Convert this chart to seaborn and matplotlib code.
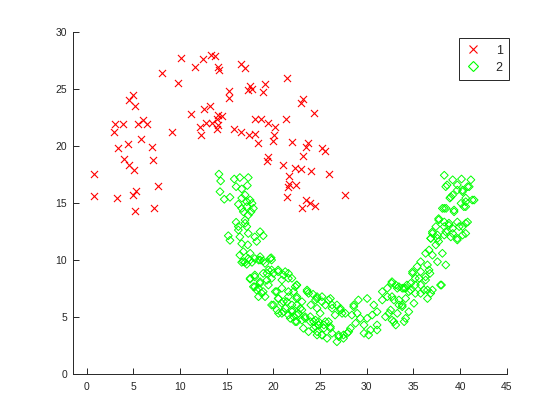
import numpy as np
import pandas as pd
import matplotlib
matplotlib.use("Agg")
import matplotlib.pyplot as plt
import seaborn as sns
from matplotlib.lines import Line2D

red_x = [10.1, 12.5, 13.3, 13.7, 11.6, 14.1, 14.2, 8.1, 9.8, 5.0, 4.5, 5.2, 11.2, 12.6, 13.2,
         14.1, 14.5, 12.8, 13.4, 14.0, 14.1, 14.0, 12.1, 12.2, 3.0, 3.9, 2.9, 5.5, 6.0, 6.5,
         9.1, 5.85, 4.4, 3.3, 7.0, 4.0, 4.5, 5.05, 7.1, 0.75, 7.6, 0.75, 3.2, 4.9, 5.3, 7.2, 5.2,
         16.5, 17.0, 21.4, 15.2, 15.2, 17.5, 17.3, 17.7, 19.1, 18.9, 23.2, 22.95, 24.3, 18.0,
         18.7, 19.4, 20.2, 21.3, 15.8, 16.5, 17.4, 18.0, 18.3, 20.1, 19.9, 22.0, 23.7, 23.5,
         25.2, 25.5, 23.2, 19.4, 19.3, 21.0, 22.3, 23.0, 24.0, 25.9, 21.7, 21.7, 22.4, 21.55,
         21.45, 23.5, 23.9, 24.5, 23.1, 27.7]
red_y = [27.7, 27.6, 27.9, 27.85, 26.9, 26.9, 26.6, 26.4, 25.5, 24.4, 24.0, 23.5, 22.8, 23.2, 23.5,
         22.7, 22.6, 22.0, 21.95, 22.3, 21.8, 21.45, 21.6, 20.9, 21.9, 21.9, 21.2, 21.9, 22.2, 21.9,
         21.2, 20.55, 20.1, 19.8, 19.9, 18.8, 18.3, 17.9, 18.7, 17.5, 16.5, 15.6, 15.4, 15.7, 16.0, 14.5, 14.3,
         27.15, 26.8, 25.9, 24.8, 24.2, 25.25, 24.9, 25.0, 25.4, 24.7, 24.1, 23.7, 22.9, 22.3,
         22.3, 21.95, 21.6, 22.3, 21.45, 21.15, 20.9, 21.0, 20.2, 20.9, 20.4, 20.3, 20.2, 19.85,
         19.8, 19.5, 19.1, 19.0, 18.65, 18.3, 18.05, 17.95, 17.8, 17.55, 17.3, 16.6, 16.55, 16.4,
         15.5, 15.2, 15.0, 14.7, 14.55, 15.65]

green_x = [
    14.16, 14.34, 14.27, 14.73, 15.34, 15.8, 16.4, 17.3, 17.2, 16.0, 16.6, 16.96, 17.5, 16.6, 16.24,
    17.14, 17.85, 16.77, 17.3, 16.0, 16.96, 17.14, 16.24, 15.16, 15.34, 16.4, 17.3, 16.6, 17.25, 18.0,
    18.57, 18.9, 18.2, 16.77, 17.5, 18.57, 19.75, 16.4, 17.7, 17.14, 16.6, 17.6, 16.96, 16.24,
    16.96, 17.5, 18.0, 18.57, 19.1, 19.8, 16.6, 17.5, 18.0, 18.57, 17.85, 18.9, 19.46, 20.0, 20.5,
    21.07, 21.6, 21.98, 19.3, 19.8, 18.2, 18.75, 19.1, 18.4, 20.36, 20.9, 21.6, 22.5, 20.5, 20.0,
    20.9, 21.44, 20.54, 21.07, 21.98, 22.5, 23.05, 23.6, 24.24, 24.5, 24.0, 24.67, 22.15, 22.7, 23.05,
    22.5, 23.4, 23.95, 23.2, 23.76, 24.3, 24.67, 24.5, 24.84, 21.6,
    24.67, 25.2, 26.1, 25.56, 26.28, 26.8, 27.17, 27.35, 26.6, 25.0, 24.84, 25.4, 25.9, 26.1, 25.2,
    27.0, 26.8, 27.5, 28.06, 28.6, 29.1, 30.04, 28.97, 29.3, 28.8, 29.7, 30.04, 30.58, 30.75, 31.1,
    31.1, 30.4, 29.7, 30.2, 31.66, 32.2, 32.2, 32.66, 33.44, 33.98, 31.66, 32.9, 33.44, 32.0, 32.37,
    33.1, 33.8, 34.0, 32.7, 28.4, 24.5, 31.1,
    38.3, 38.6, 39.2, 39.7, 40.15, 41.15, 40.8, 40.26, 39.2, 38.9, 41.3, 40.6, 40.4, 39.35, 38.1,
    38.5, 37.7, 37.4, 38.3, 38.8, 39.2, 39.9, 40.6, 40.6, 39.7, 39.0, 38.3, 37.03, 36.85, 37.57,
    37.4, 36.67, 36.3, 37.03, 38.1, 37.57, 38.46, 35.77, 36.5, 35.4, 34.9, 35.77, 36.67, 35.2, 36.3,
    34.7, 34.16, 35.77, 36.13, 37.03, 37.9, 32.7, 33.27, 34.5, 35.2,
    34.9, 35.6, 36.3, 36.77, 33.1, 33.8, 34.3, 34.7, 35.2, 35.77, 36.5, 36.85, 38.0, 36.5, 32.7,
    33.44, 34.16, 35.05, 33.8, 34.5, 33.27, 34.16, 32.9, 32.55,
    16.77, 17.3, 17.7, 17.14, 18.4, 18.9, 19.65,
    17.5, 18.0, 18.57, 19.3, 19.8, 20.5, 21.26, 21.6, 22.5, 20.9, 19.46, 18.4, 18.9, 18.0,
    20.2, 20.54, 19.8, 20.36, 21.07, 21.6, 22.15, 21.26, 21.98, 22.5, 22.87, 20.9,
    22.33, 23.6, 23.76, 24.67, 25.2, 25.9, 26.28, 27.17, 27.7, 28.6, 22.5,
    21.98, 22.5, 23.05, 23.4, 23.95, 24.3, 24.84, 25.4, 25.56, 26.1, 26.28, 24.67, 25.2, 25.74,
    26.98, 27.5, 27.9, 28.25, 22.33, 21.8,
    38.46, 39.0, 39.7, 40.26, 40.97, 40.6, 41.5, 40.1, 40.6, 38.3, 39.35, 37.7, 38.3, 38.8, 39.7,
    40.26, 40.8, 37.03, 37.57, 38.46, 39.2, 39.7, 40.26, 36.85, 37.7]
green_y = [
    17.5, 16.9, 15.96, 15.3, 15.47, 17.07, 17.2, 17.2, 16.5, 16.4, 16.2, 15.67, 15.23, 15.4, 14.86,
    14.65, 14.5, 14.2, 13.9, 13.28, 13.48, 12.9, 12.6, 12.1, 11.7, 12.0, 12.3, 11.4, 11.3, 12.0,
    12.45, 12.1, 11.6, 10.7, 10.56, 10.26, 10.17, 10.4, 14.94, 15.08, 14.5, 14.2, 13.2, 12.9,
    9.77, 9.97, 10.1, 9.97, 9.68, 9.97, 9.77, 8.3, 8.66, 7.93, 7.63, 8.8, 9.1, 8.8, 8.95,
    8.66, 8.8, 8.37, 8.2, 8.37, 7.34, 7.05, 6.76, 6.76, 7.2, 7.5, 7.2, 7.78, 6.6, 6.03,
    6.18, 6.32, 5.3, 5.44, 5.59, 6.03, 6.32, 7.2, 6.97, 6.47, 6.03, 5.74, 5.0, 5.3, 4.7,
    4.57, 5.0, 4.57, 3.99, 3.69, 3.99, 3.4, 4.7, 4.28, 5.15,
    6.6, 6.76, 6.6, 6.03, 5.74, 6.03, 5.74, 5.3, 5.15, 5.3, 4.57, 4.28, 4.57, 3.99, 3.4,
    3.25, 2.81, 3.4, 3.69, 5.88, 6.47, 6.6, 5.3, 4.86, 4.43, 4.28, 4.86, 5.15, 6.03, 5.44,
    4.28, 3.84, 3.55, 3.4, 7.2, 6.76, 7.5, 7.93, 7.63, 7.5, 6.47, 6.47, 6.03, 5.0, 5.3,
    4.28, 6.03, 4.57, 4.7, 5.15, 4.13, 3.84,
    17.4, 16.55, 17.0, 16.55, 17.07, 17.0, 16.4, 16.1, 15.67, 15.4, 15.23, 15.08, 14.65, 14.2, 14.5,
    14.5, 13.48, 12.9, 12.9, 13.2, 12.75, 12.9, 13.2, 12.3, 11.73, 12.0, 12.16, 12.3, 11.87, 11.87,
    11.3, 10.85, 10.56, 10.4, 10.56, 9.82, 9.54, 9.82, 9.54, 9.4, 8.95, 8.95, 9.1, 8.37, 8.22,
    7.93, 7.5, 7.78, 7.34, 7.34, 7.78, 8.07, 7.5, 7.2, 7.05,
    8.8, 8.37, 8.5, 8.8, 7.78, 7.5, 7.78, 7.34, 7.78, 7.05, 7.34, 7.05, 7.78, 6.6, 6.76,
    6.47, 6.6, 6.18, 5.88, 5.44, 5.3, 4.86, 4.57, 5.59,
    9.83, 10.1, 9.77, 9.6, 9.97, 9.9, 10.1,
    8.37, 8.5, 8.07, 8.8, 9.1, 9.1, 8.95, 8.37, 7.78, 8.22, 7.78, 7.5, 7.2, 7.63,
    7.2, 6.6, 6.03, 5.59, 6.32, 6.76, 7.2, 5.74, 6.03, 6.6, 5.74, 5.3,
    7.63, 7.34, 7.05, 6.76, 6.32, 6.47, 6.03, 5.59, 5.3, 6.03, 6.76,
    5.44, 5.15, 5.59, 4.86, 5.0, 4.57, 4.28, 3.99, 4.57, 4.13, 3.55, 3.69, 3.4, 3.11,
    3.4, 3.11, 3.55, 3.99, 4.57, 4.86,
    16.4, 15.5, 16.1, 15.96, 16.4, 15.4, 15.23, 14.94, 14.65, 14.5, 14.35, 13.6, 13.3, 13.0, 13.3,
    12.9, 13.3, 12.45, 12.16, 12.45, 12.3, 11.87, 12.16, 11.87, 11.6]

class_labels = ["1", "2"]
x_ticks = [0, 5, 10, 15, 20, 25, 30, 35, 40, 45]
y_ticks = [0, 5, 10, 15, 20, 25, 30]

RED = "#ff0000"
GREEN = "#00ff00"
AX = "#262626"

sns.set_theme(style="ticks")
plt.rcParams["font.family"] = ["Liberation Sans", "DejaVu Sans"]

fig = plt.figure(figsize=(5.6, 4.2), dpi=100)
fig.patch.set_facecolor("white")
ax = fig.add_axes([0.13, 0.11, 0.775, 0.815])

df_red = pd.DataFrame({"x": red_x, "y": red_y})
df_green = pd.DataFrame({"x": green_x, "y": green_y})

sns.scatterplot(data=df_red, x="x", y="y", marker="x", color=RED, s=26,
                linewidth=0.8, ax=ax, legend=False, zorder=3)
sns.scatterplot(data=df_green, x="x", y="y", marker="D", color=GREEN, s=16,
                linewidth=0.7, ax=ax, legend=False, zorder=3)
gcol = ax.collections[-1]
gcol.set_facecolor("none")
gcol.set_edgecolor(GREEN)

ax.set_xlim(-1.5, 45)
ax.set_ylim(0, 30)
ax.set_xticks(x_ticks)
ax.set_yticks(y_ticks)
ax.set_xlabel("")
ax.set_ylabel("")
ax.set_facecolor("white")
for s in ["top", "right"]:
    ax.spines[s].set_visible(False)
for s in ["left", "bottom"]:
    ax.spines[s].set_color(AX)
    ax.spines[s].set_linewidth(0.7)
ax.tick_params(axis="both", direction="in", length=4, width=0.7, color=AX,
               labelcolor=AX, labelsize=7.5)
ax.tick_params(axis="x", pad=6)
ax.tick_params(axis="y", pad=4)

handles = [
    Line2D([], [], marker="x", color=RED, linestyle="none", markersize=6, markeredgewidth=0.8),
    Line2D([], [], marker="D", color=GREEN, markerfacecolor="none", linestyle="none",
           markersize=5, markeredgewidth=0.8),
]
leg = ax.legend(handles, class_labels, loc="upper right", bbox_to_anchor=(1.005, 0.98),
                borderaxespad=0, fancybox=False, framealpha=1, edgecolor=AX,
                fontsize=9, handlelength=1.2, handletextpad=1.2, borderpad=0.5,
                labelspacing=0.4)
leg.get_frame().set_linewidth(0.7)

fig.savefig("out.png", dpi=100)
